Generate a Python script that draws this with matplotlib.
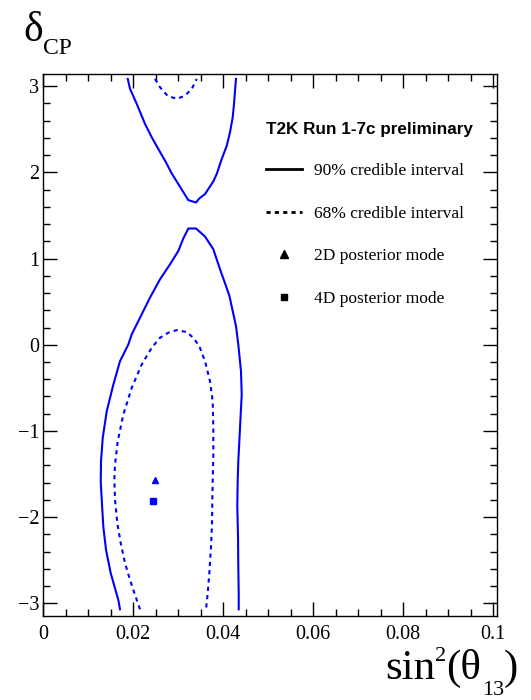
import numpy as np
import matplotlib
matplotlib.use("Agg")
import matplotlib.pyplot as plt
from matplotlib.lines import Line2D
from matplotlib.ticker import MultipleLocator, FormatStrFormatter

plt.rcParams['font.family'] = ['Liberation Serif', 'DejaVu Serif']

# 90% credible region, upper piece (wraps round at delta = +pi)
c90_up_x = [0.01876, 0.01927, 0.02076, 0.02260, 0.02409, 0.02556, 0.02727, 0.02853,
            0.03038, 0.03222, 0.03393, 0.03467, 0.03593, 0.03778, 0.03853, 0.03964,
            0.04076, 0.04149, 0.04209, 0.04238, 0.04260, 0.04282]
c90_up_y = [3.085, 2.969, 2.795, 2.562, 2.407, 2.271, 2.116, 1.988,
            1.833, 1.678, 1.651, 1.698, 1.748, 1.895, 1.980, 2.154,
            2.309, 2.465, 2.640, 2.794, 2.949, 3.085]

# 90% credible region, lower piece
c90_lo_x = [0.01704, 0.01667, 0.01593, 0.01498, 0.01393, 0.01333, 0.01298, 0.01276,
            0.01282, 0.01320, 0.01409, 0.01556, 0.01704, 0.01889, 0.01964, 0.02149,
            0.02371, 0.02593, 0.02816, 0.03000, 0.03111, 0.03222, 0.03393, 0.03593,
            0.03778, 0.03927, 0.04133, 0.04282, 0.04333, 0.04393, 0.04409, 0.04371,
            0.04333, 0.04320, 0.04311, 0.04327, 0.04333, 0.04342, 0.04342]
c90_lo_y = [-3.070, -2.962, -2.826, -2.651, -2.380, -2.109, -1.799, -1.595,
            -1.353, -1.081, -0.772, -0.462, -0.191, 0.003, 0.120, 0.314,
            0.547, 0.759, 0.934, 1.088, 1.233, 1.349, 1.349, 1.256,
            1.108, 0.876, 0.573, 0.216, 0.003, -0.307, -0.578, -0.965,
            -1.353, -1.566, -1.877, -2.226, -2.574, -2.884, -3.070]

# 68% credible region, upper arc
c68_up_x = [0.02482, 0.02593, 0.02756, 0.02964, 0.03149, 0.03298, 0.03409]
c68_up_y = [3.085, 2.988, 2.891, 2.852, 2.891, 2.967, 3.085]

# 68% credible region, lower piece
c68_lo_x = [0.02149, 0.02038, 0.01927, 0.01816, 0.01720, 0.01644, 0.01593, 0.01578,
            0.01593, 0.01653, 0.01778, 0.01964, 0.02187, 0.02409, 0.02593, 0.02778,
            0.02964, 0.03187, 0.03333, 0.03467, 0.03593, 0.03704, 0.03764, 0.03778,
            0.03778, 0.03764, 0.03756, 0.03749, 0.03727, 0.03689, 0.03653, 0.03616]
c68_lo_y = [-3.070, -2.903, -2.729, -2.535, -2.302, -2.070, -1.799, -1.566,
            -1.392, -1.121, -0.810, -0.500, -0.229, -0.035, 0.081, 0.140,
            0.170, 0.147, 0.081, -0.016, -0.191, -0.423, -0.656, -0.965,
            -1.276, -1.586, -1.799, -2.070, -2.342, -2.651, -2.884, -3.070]

# posterior modes (sin^2 theta13, delta_CP)
mode2d = (0.0248, -1.57)
mode4d = (0.0243, -1.81)

blue = (0, 0, 1)
dots = (0, (2, 2))
W, H = 531, 700

fig = plt.figure(figsize=(W / 100, H / 100), dpi=100)
ax = fig.add_axes([0.0816, 0.1207, 0.855, 0.7736])

ax.plot(c90_up_x, c90_up_y, color=blue, lw=1.5)
ax.plot(c90_lo_x, c90_lo_y, color=blue, lw=1.5)
ax.plot(c68_up_x, c68_up_y, color=blue, lw=1.5, linestyle=dots)
ax.plot(c68_lo_x, c68_lo_y, color=blue, lw=1.5, linestyle=dots)
ax.plot([mode2d[0]], [mode2d[1]], marker='^', color=blue, ms=5, ls='none')
ax.plot([mode4d[0]], [mode4d[1]], marker='s', color=blue, ms=4.5, ls='none')

ax.set_xlim(0, 0.1009)
ax.set_ylim(-np.pi, np.pi)

ax.xaxis.set_major_locator(MultipleLocator(0.02))
ax.xaxis.set_minor_locator(MultipleLocator(0.005))
ax.xaxis.set_major_formatter(FormatStrFormatter('%g'))
ax.yaxis.set_major_locator(MultipleLocator(1))
ax.yaxis.set_minor_locator(MultipleLocator(0.2))
ax.tick_params(which='both', direction='in', top=True, right=True, width=1)
ax.tick_params(which='major', length=10, labelsize=14.5)
ax.tick_params(axis='x', which='major', pad=7)
ax.tick_params(axis='y', which='major', pad=3)
ax.tick_params(which='minor', length=5)
for s in ax.spines.values():
    s.set_linewidth(1)


def px_text(x, y, s, size, **kw):
    # place text with pixel coords measured from the top-left corner
    return fig.text(x / W, 1 - y / H, s, fontsize=size, va='baseline', **kw)


# y title: delta with a lowered CP subscript
px_text(23, 41, 'δ', 30)
px_text(43.5, 54.5, 'CP', 17)

# x title built right to left so the pieces butt up against each other
renderer = fig.canvas.get_renderer()
xtitle = [('sin', 31, 679), ('2', 16, 661), ('(θ', 31, 679), ('13', 16, 695), (')', 31, 679)]
xr = 518
for s, size, base in reversed(xtitle):
    t = px_text(xr, base, s, size, ha='right')
    xr -= t.get_window_extent(renderer).width

handles = [Line2D([], [], color='black', lw=2),
           Line2D([], [], color='black', lw=2, linestyle=(0, (1.5, 1.5))),
           Line2D([], [], color='black', marker='^', ms=5.5, ls='none'),
           Line2D([], [], color='black', marker='s', ms=5, ls='none')]
labels = ['90% credible interval', '68% credible interval',
          '2D posterior mode', '4D posterior mode']
leg = ax.legend(handles, labels, loc='upper left', bbox_to_anchor=(0.49, 0.912),
                frameon=False, fontsize=12.5, handlelength=2.1, handletextpad=0.7,
                labelspacing=1.52, borderpad=0, borderaxespad=0, numpoints=1,
                title='T2K Run 1-7c preliminary', alignment='left',
                title_fontproperties={'family': 'Liberation Sans', 'weight': 'bold', 'size': 12.3})

fig.savefig('out.png', dpi=100)
